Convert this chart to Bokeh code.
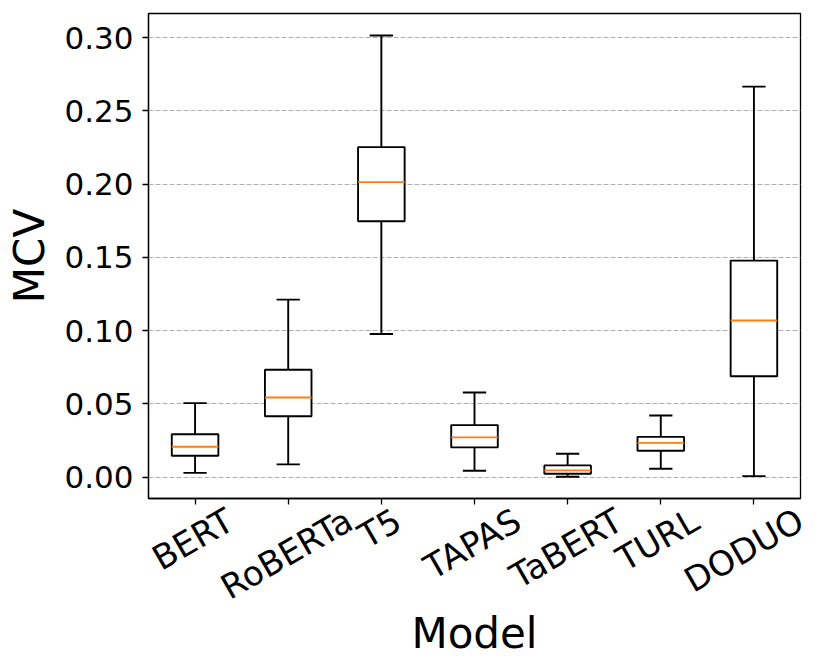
import math
from bokeh.plotting import figure
from bokeh.models import ColumnDataSource, FixedTicker, LinearAxis, Range1d
from bokeh.embed import file_html
from bokeh.resources import INLINE

# ---- data ----
models = ["BERT", "RoBERTa", "T5", "TAPAS", "TaBERT", "TURL", "DODUO"]
whisker_low = [0.0029, 0.0087, 0.0977, 0.0043, 0.0002, 0.0057, 0.0007]
q1 = [0.0146, 0.0416, 0.1747, 0.0203, 0.0023, 0.0180, 0.0689]
median = [0.0207, 0.0543, 0.2014, 0.0271, 0.0046, 0.0234, 0.1069]
q3 = [0.0293, 0.0733, 0.2253, 0.0355, 0.0080, 0.0275, 0.1478]
whisker_high = [0.0505, 0.1212, 0.3015, 0.0578, 0.0159, 0.0421, 0.2666]
y_ticks = [0.0, 0.05, 0.10, 0.15, 0.20, 0.25, 0.30]
y_tick_labels = ["0.00", "0.05", "0.10", "0.15", "0.20", "0.25", "0.30"]

FONT = "DejaVu Sans"
TICK_PX = 31
XTICK_PX = 34
LABEL_PX = 42
LW = 1.9
FRAME_W, FRAME_H = 652, 485

x_pos = list(range(1, len(models) + 1))
box_w = 0.5
cap_w = 0.25

src = ColumnDataSource(dict(
    x=x_pos, lo=whisker_low, q1=q1, med=median, q3=q3, hi=whisker_high,
    bl=[x - box_w / 2 for x in x_pos], br=[x + box_w / 2 for x in x_pos],
    cl=[x - cap_w / 2 for x in x_pos], cr=[x + cap_w / 2 for x in x_pos],
))

x_lo, x_hi = 0.5, 7.5
y_lo, y_hi = -0.0146, 0.3165
p = figure(frame_width=FRAME_W, frame_height=FRAME_H, output_backend="svg",
           toolbar_location=None,
           x_range=Range1d(x_lo, x_hi), y_range=Range1d(y_lo, y_hi),
           min_border_left=148, min_border_right=14, min_border_top=13,
           min_border_bottom=10)
p.background_fill_color = "white"
p.border_fill_color = "white"
p.outline_line_color = "black"
p.outline_line_width = 1.3

# grid
p.xgrid.visible = False
p.ygrid.ticker = FixedTicker(ticks=y_ticks)
p.ygrid.grid_line_color = "#b0b0b0"
p.ygrid.grid_line_dash = "5 2"
p.ygrid.grid_line_width = 1.1

# y axis
yax = p.yaxis[0]
yax.ticker = FixedTicker(ticks=y_ticks)
yax.major_label_overrides = {t: l for t, l in zip(y_ticks, y_tick_labels)}
yax.minor_tick_line_color = None
yax.major_tick_in = 0
yax.major_tick_out = 6
yax.major_tick_line_width = 1.3
yax.axis_line_width = 1.3
yax.major_label_text_font = FONT
yax.major_label_text_font_size = f"{TICK_PX}px"
yax.major_label_text_color = "black"
yax.major_label_standoff = 9
yax.axis_label = "MCV"
yax.axis_label_text_font = FONT
yax.axis_label_text_font_size = f"{LABEL_PX}px"
yax.axis_label_text_font_style = "normal"
yax.axis_label_text_color = "black"
yax.axis_label_standoff = 7

# x axis: tick marks only
xax = p.xaxis[0]
xax.ticker = FixedTicker(ticks=x_pos)
xax.major_label_text_font_size = "0px"
xax.major_label_text_color = None
xax.major_label_standoff = 0
xax.minor_tick_line_color = None
xax.major_tick_in = 0
xax.major_tick_out = 6
xax.major_tick_line_width = 1.3
xax.axis_line_width = 1.3

# second axis below: rotated labels, shifted so that each label is centred
# under its tick like matplotlib's rotation=30 labels (Bokeh anchors the right end)
char_w = {"A": 0.684, "B": 0.686, "D": 0.770, "E": 0.632, "L": 0.557, "O": 0.787,
          "P": 0.603, "R": 0.695, "S": 0.635, "T": 0.611, "U": 0.732, "a": 0.613,
          "o": 0.612, "5": 0.636}
angle = math.pi / 6
px_per_unit = FRAME_W / (x_hi - x_lo)
label_ticks = []
for xv, m in zip(x_pos, models):
    w = sum(char_w.get(c, 0.62) for c in m) * TICK_PX
    t = xv + 0.5 * w * math.cos(angle) / px_per_unit
    label_ticks.append(round(min(t, x_hi - 0.0001), 4))

lab_axis = LinearAxis(ticker=FixedTicker(ticks=label_ticks),
                      major_label_overrides={t: m for t, m in zip(label_ticks, models)},
                      major_label_orientation=angle)
lab_axis.axis_line_color = None
lab_axis.major_tick_line_color = None
lab_axis.minor_tick_line_color = None
lab_axis.major_tick_in = 0
lab_axis.major_tick_out = 0
lab_axis.major_label_standoff = 13
lab_axis.major_label_text_font = FONT
lab_axis.major_label_text_font_size = f"{XTICK_PX}px"
lab_axis.major_label_text_color = "black"
lab_axis.axis_label = "Model"
lab_axis.axis_label_text_font = FONT
lab_axis.axis_label_text_font_size = f"{LABEL_PX}px"
lab_axis.axis_label_text_font_style = "normal"
lab_axis.axis_label_text_color = "black"
lab_axis.axis_label_standoff = -19
p.add_layout(lab_axis, "below")

# boxes
p.quad(left="bl", right="br", bottom="q1", top="q3", source=src,
       fill_color="white", line_color="black", line_width=LW)
# whiskers
p.segment(x0="x", y0="q3", x1="x", y1="hi", source=src, line_color="black", line_width=LW)
p.segment(x0="x", y0="q1", x1="x", y1="lo", source=src, line_color="black", line_width=LW)
# caps
p.segment(x0="cl", y0="hi", x1="cr", y1="hi", source=src, line_color="black", line_width=LW)
p.segment(x0="cl", y0="lo", x1="cr", y1="lo", source=src, line_color="black", line_width=LW)
# medians
p.segment(x0="bl", y0="med", x1="br", y1="med", source=src, line_color="#ff7f0e", line_width=LW)

open("out.html", "w").write(file_html(p, INLINE))
